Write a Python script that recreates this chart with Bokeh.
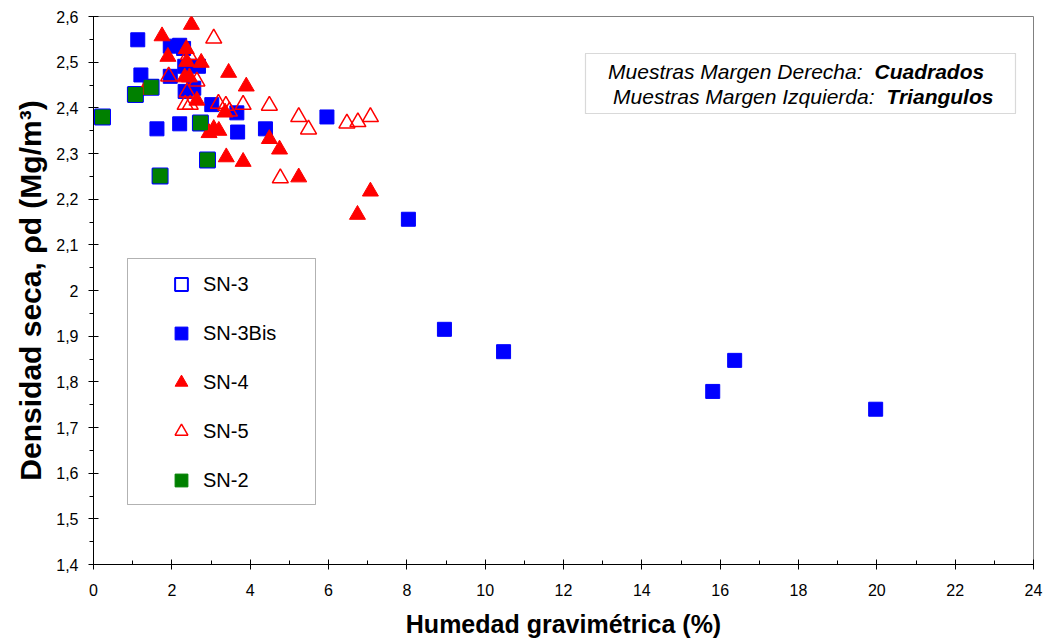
import numpy as np
from bokeh.plotting import figure
from bokeh.models import (Range1d, FixedTicker, CustomJSTickFormatter, Label,
                          BoxAnnotation, Legend, LegendItem)
from bokeh.embed import file_html
from bokeh.resources import INLINE

# ---------------- data ----------------
sn3bis_x = [1.13, 1.96, 2.20, 2.30, 2.33, 2.68, 1.21, 1.96, 2.34, 2.56, 3.02, 3.66,
            1.62, 2.20, 3.68, 4.39, 5.96, 8.04, 8.96, 10.47, 15.81, 16.37, 19.97]
sn3bis_y = [2.549, 2.535, 2.537, 2.530, 2.491, 2.491, 2.472, 2.469, 2.436, 2.443, 2.407, 2.389,
            2.354, 2.365, 2.347, 2.354, 2.380, 2.156, 1.915, 1.866, 1.779, 1.847, 1.740]

sn2_x = [0.23, 1.07, 1.47, 2.73, 2.91, 1.70]
sn2_y = [2.380, 2.429, 2.445, 2.367, 2.286, 2.251]

sn3_x = [0.23, 1.07, 1.47, 2.73, 2.91, 1.70]
sn3_y = [2.380, 2.429, 2.445, 2.367, 2.286, 2.251]

sn4_x = [2.50, 1.75, 2.37, 1.90, 2.38, 2.75, 3.45, 3.90, 2.33, 2.45, 2.64, 1.32,
         3.36, 2.95, 3.07, 3.20, 3.39, 3.82, 4.49, 4.75, 5.24, 6.74, 7.07]
sn4_y = [2.582, 2.557, 2.529, 2.512, 2.501, 2.499, 2.477, 2.447, 2.467, 2.467, 2.416, 2.440,
         2.390, 2.345, 2.354, 2.350, 2.292, 2.282, 2.332, 2.309, 2.248, 2.166, 2.217]

sn5_x = [3.07, 2.43, 1.92, 2.64, 2.39, 2.34, 2.47, 3.19, 3.38, 3.47, 3.82, 4.49,
         5.24, 5.49, 6.47, 6.75, 7.07, 4.77]
sn5_y = [2.552, 2.516, 2.469, 2.458, 2.434, 2.407, 2.407, 2.409, 2.405, 2.392, 2.407, 2.405,
         2.380, 2.353, 2.366, 2.369, 2.380, 2.246]

x_ticks = [0, 2, 4, 6, 8, 10, 12, 14, 16, 18, 20, 22, 24]
x_minor = [1, 3, 5, 7, 9, 11, 13, 15, 17, 19, 21, 23]
y_ticks = [1.4, 1.5, 1.6, 1.7, 1.8, 1.9, 2.0, 2.1, 2.2, 2.3, 2.4, 2.5, 2.6]
y_minor = [1.45, 1.55, 1.65, 1.75, 1.85, 1.95, 2.05, 2.15, 2.25, 2.35, 2.45, 2.55]

# ---------------- layout ----------------
W, H = 1049, 644
BL, BR, BT, BB = 93, 16, 16, 80
X0, X1, Y0, Y1 = 0, 24, 1.4, 2.6
FONT = "Liberation Sans"


def sx(px):
    return X0 + (px - BL) / (W - BL - BR) * (X1 - X0)


def sy(py):
    return Y1 - (py - BT) / (H - BT - BB) * (Y1 - Y0)


p = figure(width=W, height=H, x_range=Range1d(X0, X1), y_range=Range1d(Y0, Y1),
           output_backend="svg", toolbar_location=None,
           min_border_left=BL, min_border_right=BR, min_border_top=BT, min_border_bottom=BB)
p.xgrid.visible = False
p.ygrid.visible = False
p.outline_line_color = "#808080"
p.outline_line_width = 1
p.background_fill_color = "white"
p.border_fill_color = "white"

for ax in (p.xaxis[0], p.yaxis[0]):
    ax.axis_line_color = "black"
    ax.major_tick_line_color = "black"
    ax.minor_tick_line_color = "black"
    ax.major_tick_in = 5
    ax.major_tick_out = 5
    ax.major_label_text_font = FONT
    ax.major_label_text_font_size = "16px"
    ax.major_label_text_color = "black"
    ax.axis_label_text_font = FONT
    ax.axis_label_text_font_style = "bold"
    ax.axis_label_text_color = "black"

p.xaxis.ticker = FixedTicker(ticks=x_ticks, minor_ticks=x_minor)
p.xaxis.minor_tick_in = 4
p.xaxis.minor_tick_out = 0
p.xaxis.major_label_standoff = 14
p.xaxis.axis_label = "Humedad gravimétrica (%)"
p.xaxis.axis_label_text_font_size = "25px"
p.xaxis.axis_label_standoff = 11

p.yaxis.ticker = FixedTicker(ticks=y_ticks, minor_ticks=y_minor)
p.yaxis.minor_tick_in = 0
p.yaxis.minor_tick_out = 4
p.yaxis.major_label_standoff = 10
p.yaxis.formatter = CustomJSTickFormatter(
    code="return (Math.round(tick*10)/10).toString().replace('.', ',');")
p.yaxis.axis_label = "Densidad seca, ρd (Mg/m³)"
p.yaxis.axis_label_text_font_size = "30px"
p.yaxis.axis_label_standoff = 6

# ---------------- series ----------------
r_sn3 = p.scatter(sn3_x, sn3_y, marker="square", size=15, fill_color=None,
                  line_color="#0000FF", line_width=2)
r_bis = p.scatter(sn3bis_x, sn3bis_y, marker="square", size=14, fill_color="#0000FF",
                  line_color="#0000FF", line_width=1)
r_sn4 = p.scatter(sn4_x, sn4_y, marker="triangle", size=16, fill_color="#FF0000",
                  line_color="#FF0000", line_width=1)
r_sn5 = p.scatter(sn5_x, sn5_y, marker="triangle", size=16, fill_color=None,
                  line_color="#FF0000", line_width=1.5)
r_sn2 = p.scatter(sn2_x, sn2_y, marker="square", size=14, fill_color="#008000",
                  line_color="#008000", line_width=1)

# ---------------- legend ----------------
leg_box = BoxAnnotation(left=sx(127), right=sx(315), top=sy(258), bottom=sy(504),
                        fill_color="white", fill_alpha=1, line_color="black", line_width=1)
p.add_layout(leg_box)

legend = Legend(items=[LegendItem(label="SN-3", renderers=[r_sn3]),
                       LegendItem(label="SN-3Bis", renderers=[r_bis]),
                       LegendItem(label="SN-4", renderers=[r_sn4]),
                       LegendItem(label="SN-5", renderers=[r_sn5]),
                       LegendItem(label="SN-2", renderers=[r_sn2])],
                location=(165 - BL, H - BB - 496), orientation="vertical",
                padding=0, margin=0, spacing=17, glyph_width=32, glyph_height=32,
                label_height=32, label_standoff=6, label_text_font=FONT,
                label_text_font_size="20px", label_text_color="black",
                border_line_color=None, background_fill_alpha=0)
p.add_layout(legend)

# ---------------- note box ----------------
note_box = BoxAnnotation(left=sx(585), right=sx(1015), top=sy(53), bottom=sy(113),
                         fill_color="white", fill_alpha=1, line_color="black",
                         line_width=1.2, line_dash="1 1")
p.add_layout(note_box)

note_parts = [
    (862, 71, "Muestras Margen Derecha:", "right", "italic"),
    (874, 71, "Cuadrados", "left", "bold italic"),
    (874, 96, "Muestras Margen Izquierda:", "right", "italic"),
    (886, 96, "Triangulos", "left", "bold italic"),
]
for px, py, txt, al, st in note_parts:
    p.add_layout(Label(x=sx(px), y=sy(py), text=txt, text_align=al, text_baseline="middle",
                       text_font=FONT, text_font_style=st, text_font_size="21px",
                       text_color="black"))

open("out.html", "w").write(file_html(p, INLINE))
